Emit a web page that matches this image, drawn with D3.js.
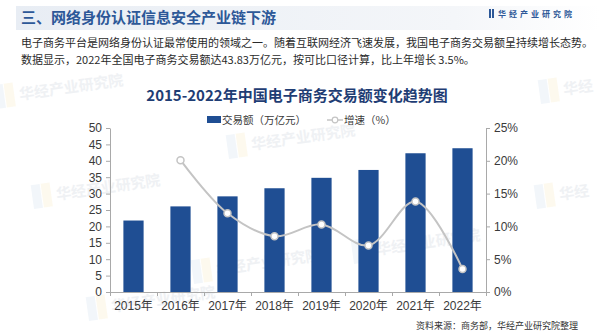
<!DOCTYPE html>
<html>
<head>
<meta charset="utf-8">
<script src="https://cdn.jsdelivr.net/npm/d3@7/dist/d3.min.js"></script>
<style>
  body { margin: 0; background: #fff; }
  svg { display: block; font-family: "Noto Sans CJK SC", "Noto Sans", sans-serif; }
</style>
</head>
<body>
<svg id="chart" width="600" height="333"></svg>
<script>
// E-commerce transaction volume (trillion yuan) and year-on-year growth (%)
const years = ["2015年", "2016年", "2017年", "2018年", "2019年", "2020年", "2021年", "2022年"];
const volume = [21.79, 26.1, 29.16, 31.63, 34.81, 37.21, 42.3, 43.83];
const growth = [null, 20.1, 12.0, 8.5, 10.3, 7.1, 13.8, 3.5];
const leftTicks = [0, 5, 10, 15, 20, 25, 30, 35, 40, 45, 50];
const rightTicks = [0, 5, 10, 15, 20, 25];

const svg = d3.select("#chart");

const barColor = "#1f4e93";
const lineColor = "#c4c4c4";
const axisColor = "#a9a9a9";
const textColor = "#3a3a3a";

// header band
const defs = svg.append("defs");
const grad = defs.append("linearGradient").attr("id", "band").attr("x1", "0").attr("x2", "1");
grad.append("stop").attr("offset", "0").attr("stop-color", "#e8edf4");
grad.append("stop").attr("offset", "0.75").attr("stop-color", "#f4f6f9");
grad.append("stop").attr("offset", "1").attr("stop-color", "#ffffff");
svg.append("rect").attr("x", 16).attr("y", 6).attr("width", 584).attr("height", 24).attr("fill", "url(#band)");

// faint watermarks
const marks = [
  [18, 100, "华经产业研究院"], [55, 200, "华经产业研究院"], [110, 312, "华经产业研究院"],
  [250, 150, "华经产业研究院"], [215, 275, "华经产业研究院"], [375, 255, "华经产业研究院"],
  [562, 95, "华经"], [558, 200, "华经"]
];
const wm = svg.append("g").attr("pointer-events", "none");
marks.forEach(([x, y, t]) => {
  const g = wm.append("g").attr("transform", `translate(${x},${y}) rotate(-8)`);
  g.append("rect").attr("x", -22).attr("y", -18).attr("width", 9).attr("height", 24).attr("fill", "#e3eaf4").attr("opacity", 0.45);
  g.append("rect").attr("x", -12).attr("y", -18).attr("width", 9).attr("height", 24).attr("fill", "#fbf2da").attr("opacity", 0.45);
  g.append("text").attr("x", 2).attr("y", 0).attr("font-size", 15).attr("font-weight", 700)
    .attr("fill", "#e9ecf0").attr("opacity", 0.7).text(t);
});

// header
svg.append("text").attr("x", 21).attr("y", 23).attr("font-size", 15).attr("font-weight", 700)
  .attr("fill", "#2d5898").text("三、网络身份认证信息安全产业链下游");

// brand mark
svg.append("rect").attr("x", 489).attr("y", 9).attr("width", 2).attr("height", 9).attr("fill", "#2d5898");
svg.append("rect").attr("x", 492).attr("y", 9).attr("width", 2).attr("height", 9).attr("fill", "#2d5898");
svg.append("text").attr("x", 498).attr("y", 17).attr("font-size", 8).attr("font-weight", 700)
  .attr("letter-spacing", 3).attr("fill", "#2d5898").text("华经产业研究院");

// intro paragraph
const para = [
  "电子商务平台是网络身份认证最常使用的领域之一。随着互联网经济飞速发展，我国电子商务交易额呈持续增长态势。",
  "数据显示，2022年全国电子商务交易额达43.83万亿元，按可比口径计算，比上年增长 3.5%。"
];
para.forEach((t, i) => {
  svg.append("text").attr("x", 21).attr("y", 47 + i * 17).attr("font-size", 11)
    .attr("fill", "#2a2a2a").text(t);
});

// chart title
svg.append("text").attr("x", 297).attr("y", 101).attr("text-anchor", "middle")
  .attr("font-size", 15).attr("font-weight", 700).attr("fill", "#1f3d74")
  .text("2015-2022年中国电子商务交易额变化趋势图");

// scales
const x = d3.scaleBand().domain(years).range([110, 486]).paddingInner(0.57).paddingOuter(0.285);
const yL = d3.scaleLinear().domain([0, 50]).range([292, 128]);
const yR = d3.scaleLinear().domain([0, 25]).range([292, 128]);
const xi = d3.scaleLinear().domain([0, years.length]).range([110, 486]);
const cx = d => x(d) + x.bandwidth() / 2;

// bars
svg.append("g").selectAll("rect").data(years).join("rect")
  .attr("x", d => x(d)).attr("width", x.bandwidth())
  .attr("y", (d, i) => yL(volume[i]))
  .attr("height", (d, i) => yL(0) - yL(volume[i]))
  .attr("fill", barColor);

function styleAxis(g) {
  g.selectAll("path, line").attr("stroke", axisColor);
  g.selectAll("text").attr("fill", textColor).attr("font-size", 12)
    .attr("font-family", '"Liberation Sans", "Noto Sans CJK SC", sans-serif');
}

// left axis
svg.append("g").attr("transform", "translate(110,0)")
  .call(d3.axisLeft(yL).tickValues(leftTicks).tickSize(4).tickSizeOuter(0).tickPadding(4))
  .call(styleAxis);

// right axis
svg.append("g").attr("transform", "translate(486,0)")
  .call(d3.axisRight(yR).tickValues(rightTicks).tickSize(4).tickSizeOuter(0).tickPadding(4)
    .tickFormat(d => d + "%"))
  .call(styleAxis);

// bottom axis: boundary ticks and category labels
svg.append("g").attr("transform", "translate(0,292)")
  .call(d3.axisBottom(xi).tickValues(d3.range(years.length + 1)).tickSize(4).tickSizeOuter(0).tickFormat(""))
  .call(styleAxis);
svg.append("g").attr("transform", "translate(0,292)")
  .call(d3.axisBottom(x).tickSize(0).tickPadding(9))
  .call(g => g.select(".domain").remove())
  .call(styleAxis);

// growth line
const pts = years.map((d, i) => ({ d, v: growth[i] })).filter(p => p.v != null);
svg.append("path").datum(pts)
  .attr("fill", "none").attr("stroke", lineColor).attr("stroke-width", 2)
  .attr("d", d3.line().x(p => cx(p.d)).y(p => yR(p.v)).curve(d3.curveCatmullRom.alpha(0.5)));
svg.append("g").selectAll("circle").data(pts).join("circle")
  .attr("cx", p => cx(p.d)).attr("cy", p => yR(p.v)).attr("r", 3.5)
  .attr("fill", "#fff").attr("stroke", lineColor).attr("stroke-width", 1.5);

// legend
const lg = svg.append("g");
lg.append("rect").attr("x", 207).attr("y", 116).attr("width", 14).attr("height", 7).attr("fill", barColor);
lg.append("text").attr("x", 222).attr("y", 123.5).attr("font-size", 10.5).attr("fill", textColor).text("交易额（万亿元）");
lg.append("line").attr("x1", 327).attr("x2", 343).attr("y1", 120).attr("y2", 120).attr("stroke", lineColor).attr("stroke-width", 1.5);
lg.append("circle").attr("cx", 335).attr("cy", 120).attr("r", 2.8).attr("fill", "#fff").attr("stroke", lineColor).attr("stroke-width", 1.2);
lg.append("text").attr("x", 344).attr("y", 123.5).attr("font-size", 10.5).attr("fill", textColor).text("增速（%）");

// source note
svg.append("text").attr("x", 578).attr("y", 329).attr("text-anchor", "end")
  .attr("font-size", 9).attr("fill", "#333").text("资料来源：商务部，华经产业研究院整理");
</script>
</body>
</html>
